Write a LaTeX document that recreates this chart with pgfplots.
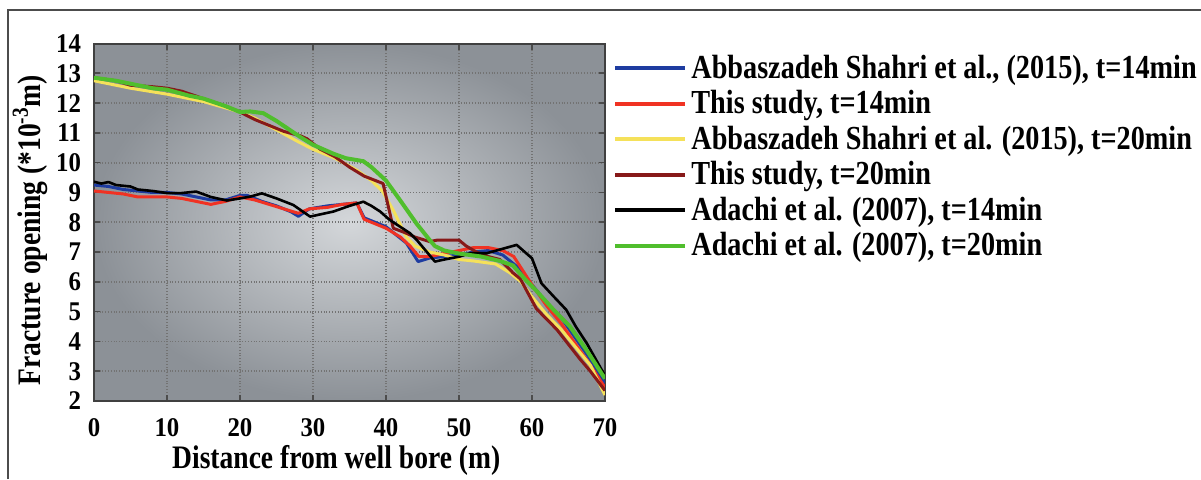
\documentclass[border=0pt]{standalone}
\usepackage{fontspec}
\setmainfont{Liberation Serif}[FakeStretch=0.84]
\newfontfamily\tickfont{Liberation Serif}[FakeStretch=0.92]
\usepackage{pgfplots}
\pgfplotsset{compat=1.18}
\definecolor{cblue}{RGB}{30,60,160}
\definecolor{cred}{RGB}{240,50,35}
\definecolor{cyellow}{RGB}{245,225,90}
\definecolor{cbrown}{RGB}{135,25,25}
\definecolor{cgreen}{RGB}{80,190,45}
\definecolor{bgin}{RGB}{212,215,218}
\definecolor{bgout}{RGB}{140,145,151}

\begin{document}
\begin{tikzpicture}
\path[use as bounding box] (-47pt,-39pt) rectangle (553.5pt,200.5pt);
\draw[black!70, line width=0.6pt] (-43pt,-39pt) -- (-43pt,195.5pt) -- (553.5pt,195.5pt);
\begin{axis}[
  at={(0,0)}, anchor=south west,
  scale only axis,
  width=255.5pt, height=178.75pt,
  xmin=0, xmax=70, ymin=2, ymax=14,
  xtick={0,10,...,70}, ytick={2,3,...,14},
  /pgf/number format/assume math mode=true,
  tick label style={font=\tickfont\bfseries\fontsize{13.5}{14}\selectfont},
  xticklabel style={yshift=-5pt},
  yticklabel style={xshift=-3pt},
  tick style={black!70, line width=0.8pt},
  major tick length=3pt,
  tick align=inside,
  grid=major,
  grid style={densely dotted, black!55, line width=0.9pt},
  axis line style={black!75, line width=1pt},
  axis background/.style={inner color=bgin, outer color=bgout},
  xlabel={Distance from well bore (m)},
  ylabel={Fracture opening (*10\textsuperscript{-3}m)},
  label style={font=\bfseries\fontsize{16.4}{17}\selectfont},
  xlabel style={at={(axis description cs:0.474,0)}, anchor=center, yshift=-29.5pt},
  ylabel style={at={(axis description cs:-0.125,0.478)}, anchor=center},
  legend cell align=left,
  legend style={at={(1,1)}, anchor=north west, xshift=1pt, yshift=-1.5pt,
    draw=none, fill=none, font=\bfseries\fontsize{16.8}{17}\selectfont,
    row sep=0.6pt},
  legend image code/.code={\draw[#1, line width=2pt] (0pt,0pt) -- (35pt,0pt);},
  every axis plot/.append style={line width=1.5pt, line join=round},
]
\addplot[cblue] coordinates {
(0,9.25) (2,9.2) (4,9.1) (6,9.05) (8,9.0) (10,9.0) (12,8.95) (14,8.85) (16,8.75)
(18,8.75) (20,8.9) (21,8.9) (23,8.7) (25,8.55) (27,8.35) (28,8.2) (29.5,8.45)
(32,8.55) (34,8.6) (36,8.65) (37,8.15) (40,7.85) (42.8,7.3) (44.4,6.68) (46,6.8)
(48,6.85) (50,6.9) (52,7.0) (54,7.05) (56,6.9) (58,6.5) (60,5.9) (62,5.3)
(64,4.8) (66,4.1) (68,3.4) (70,2.6)};
\addplot[cred] coordinates {
(0,9.05) (2,9.0) (4,8.95) (6,8.85) (8,8.85) (10,8.85) (12,8.8) (14,8.7) (16,8.6)
(18,8.7) (20,8.85) (22,8.75) (24,8.6) (26,8.45) (28,8.3) (29.5,8.45) (32,8.5)
(34,8.6) (36,8.65) (37,8.1) (40,7.8) (42,7.5) (43.3,7.2) (44.5,6.85) (46,6.85)
(48,6.95) (50,7.05) (52,7.15) (54,7.15) (56,7.05) (57.5,6.85) (60,5.9) (62,5.2)
(64,4.6) (66,3.9) (68,3.2) (70,2.45)};
\addplot[cyellow] coordinates {
(0,12.75) (5,12.5) (10,12.3) (15,12.05) (20,11.7) (22,11.5) (25,11.1) (28,10.7)
(30,10.45) (33,10.15) (36,9.75) (38,9.4) (39.5,9.05) (41,8.4) (42.8,7.5) (44,7.2)
(46,7.0) (48,6.9) (50,6.75) (52,6.7) (55,6.6) (57,6.3) (58.5,6.0) (60,5.5)
(62,4.9) (64,4.4) (66,3.8) (68,3.2) (70,2.2)};
\addplot[cbrown] coordinates {
(0,12.85) (3,12.75) (5,12.6) (8,12.55) (10,12.5) (12,12.4) (15,12.15) (18,11.9)
(20,11.7) (22,11.45) (24,11.25) (26,11.05) (28.3,10.9) (29.2,10.8) (31,10.45)
(33,10.2) (35,9.85) (37,9.55) (39.6,9.3) (41,7.8) (42.6,7.65) (44,7.5) (46,7.35)
(47,7.4) (50,7.4) (51,7.2) (52.4,7.0) (54,6.85) (55.6,6.75) (57.4,6.3) (58.4,6.1)
(60.6,5.1) (63.4,4.4) (66.6,3.4) (68,3.0) (70,2.35)};
\addplot[black, line width=1.3pt] coordinates {
(0,9.36) (1,9.3) (2,9.35) (3,9.25) (5,9.2) (6,9.1) (8,9.05) (10,8.98) (12,8.98)
(14,9.03) (16,8.85) (18.2,8.73) (20,8.8) (21.4,8.86) (23,8.97) (25,8.8) (27.3,8.58)
(29.6,8.19) (32.8,8.36) (35,8.55) (36.9,8.69) (38,8.55) (39.2,8.36) (40.5,8.08)
(43.3,7.63) (44.2,7.41) (46.7,6.68) (48,6.75) (50.1,6.85) (51.5,6.96) (53.8,6.96)
(55.4,7.07) (57.9,7.24) (60,6.79) (61.3,5.95) (63,5.5) (64.7,5.06) (66,4.5)
(67.5,3.94) (70,2.85)};
\addplot[cgreen, line width=2pt] coordinates {
(0,12.85) (3,12.75) (5,12.65) (8,12.5) (10,12.45) (13,12.25) (15,12.15) (18,11.9)
(20,11.7) (21.4,11.72) (23.2,11.66) (25,11.4) (28.2,10.87) (30,10.6) (32.8,10.3)
(34.5,10.15) (36.9,10.05) (38,9.85) (40,9.4) (41.9,8.75) (44.2,7.95) (46,7.4)
(46.7,7.2) (48,7.05) (50,6.95) (53,6.85) (55.6,6.7) (57.4,6.55) (59,6.1)
(60.6,5.7) (63,5.05) (65.2,4.5) (67.5,3.7) (70,2.75)};
\legend{{Abbaszadeh Shahri et al., (2015), t=14min},{This study, t=14min},
  {Abbaszadeh Shahri et al. (2015), t=20min},{This study, t=20min},
  {Adachi et al. (2007), t=14min},{Adachi et al. (2007), t=20min}}
\end{axis}
\end{tikzpicture}
\end{document}
